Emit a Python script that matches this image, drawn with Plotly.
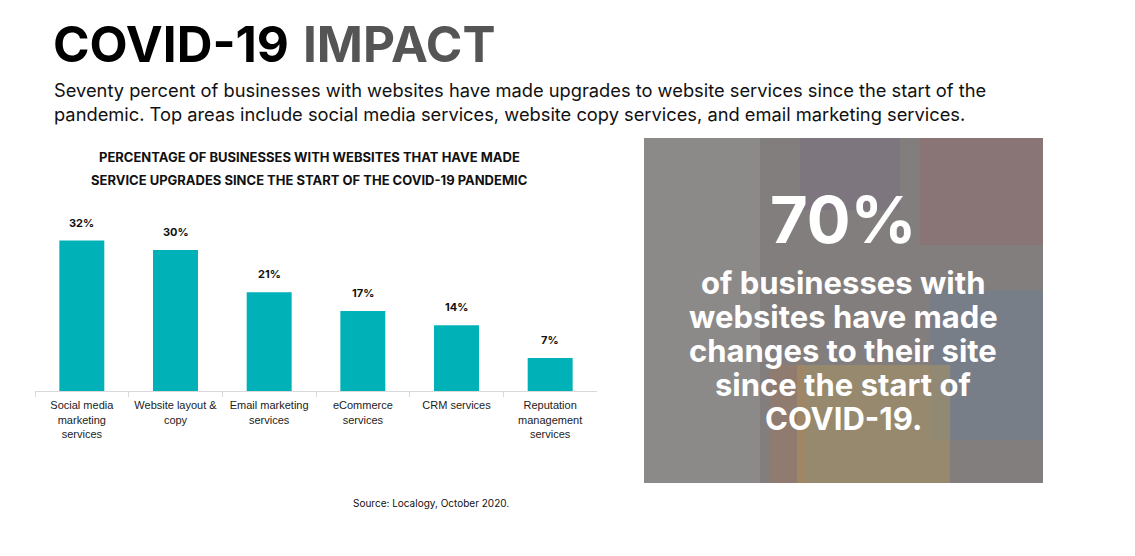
import plotly.graph_objects as go

categories = [
    "Social media<br>marketing<br>services",
    "Website layout &<br>copy",
    "Email marketing<br>services",
    "eCommerce<br>services",
    "CRM services",
    "Reputation<br>management<br>services",
]
values = [32, 30, 21, 17, 14, 7]
value_labels = ["32%", "30%", "21%", "17%", "14%", "7%"]

panel_big = "70%"
panel_lines = [
    "of businesses with",
    "websites have made",
    "changes to their site",
    "since the start of",
    "COVID-19.",
]

W, H = 1135, 556
OFF = 8  # page body margin
TEAL = "#00b1b8"
HEAD_FONT = "Inter"


def px(x):
    return (x - OFF) / W


def py(y):
    return 1 - (y - OFF) / H


fig = go.Figure(
    go.Bar(
        x=categories,
        y=values,
        marker=dict(color=TEAL, line=dict(width=0)),
        hoverinfo="skip",
    )
)

# value labels above bars
for cat, val, lab in zip(categories, values, value_labels):
    fig.add_annotation(
        x=cat, y=val, xref="x", yref="y",
        text="<b>" + lab + "</b>",
        showarrow=False, yanchor="bottom", yshift=9,
        font=dict(family=HEAD_FONT, size=11, color="#111111"),
    )

annotations = [
    dict(x=px(51), y=py(44), text="<b>COVID-19</b> <span style='color:#555555'><b>IMPACT</b></span>",
         font=dict(family=HEAD_FONT, size=49.5, color="#000000"), xanchor="left", yanchor="middle"),
    dict(x=px(52), y=py(102),
         text="Seventy percent of businesses with websites have made upgrades to website services since the start of the<br>"
              "pandemic. Top areas include social media services, website copy services, and email marketing services.",
         font=dict(family=HEAD_FONT, size=18.3, color="#111111"), xanchor="left", yanchor="middle", align="left"),
    dict(x=px(309), y=py(157), text="<b>PERCENTAGE OF BUSINESSES WITH WEBSITES THAT HAVE MADE</b>",
         font=dict(family=HEAD_FONT, size=13, color="#111111"), xanchor="center", yanchor="middle"),
    dict(x=px(309), y=py(180), text="<b>SERVICE UPGRADES SINCE THE START OF THE COVID-19 PANDEMIC</b>",
         font=dict(family=HEAD_FONT, size=13, color="#111111"), xanchor="center", yanchor="middle"),
    dict(x=px(431), y=py(503), text="Source: Localogy, October 2020.",
         font=dict(family=HEAD_FONT, size=10, color="#111111"), xanchor="center", yanchor="middle"),
    dict(x=px(843), y=py(219), text="<b>" + panel_big + "</b>",
         font=dict(family=HEAD_FONT, size=65, color="#ffffff"), xanchor="center", yanchor="middle"),
]
line_y = [282, 316, 350, 384, 418]
for txt, yy in zip(panel_lines, line_y):
    annotations.append(
        dict(x=px(843), y=py(yy), text="<b>" + txt + "</b>",
             font=dict(family=HEAD_FONT, size=31, color="#ffffff"), xanchor="center", yanchor="middle")
    )
for a in annotations:
    fig.add_annotation(xref="paper", yref="paper", showarrow=False, **a)

# photo panel stand-in (muted blocks suggesting the photo behind the text)
panel_blocks = [
    (644, 1043, 138, 483, "#837e7e", 1.0),
    (644, 760, 138, 483, "#939191", 0.6),
    (920, 1043, 138, 245, "#a05a5e", 0.25),
    (800, 900, 138, 210, "#6e6080", 0.25),
    (930, 1043, 290, 440, "#5f7f9a", 0.3),
    (770, 805, 365, 483, "#b07450", 0.3),
    (797, 950, 365, 483, "#b69a55", 0.4),
]
for x0, x1, y0, y1, col, op in panel_blocks:
    fig.add_shape(type="rect", xref="paper", yref="paper",
                  x0=px(x0), x1=px(x1), y0=py(y1), y1=py(y0),
                  fillcolor=col, opacity=op, line=dict(width=0), layer="below")

fig.update_layout(
    width=W, height=H,
    margin=dict(l=0, r=0, t=0, b=0),
    paper_bgcolor="#ffffff",
    plot_bgcolor="rgba(0,0,0,0)",
    showlegend=False,
    bargap=0.52,
    font=dict(family="Liberation Sans, Arial", color="#222222"),
    xaxis=dict(
        domain=[px(35), px(597)],
        showline=True, linecolor="#d9d9d9", linewidth=1,
        ticks="outside", tickson="boundaries", ticklen=5, tickcolor="#d9d9d9",
        ticklabelstandoff=4,
        tickfont=dict(family="Liberation Sans, Arial", size=11, color="#222222"),
        showgrid=False, fixedrange=True,
    ),
    yaxis=dict(
        domain=[py(391), py(203)],
        range=[0, 40], visible=False, showgrid=False, fixedrange=True,
    ),
)

fig.write_html("out.html")
